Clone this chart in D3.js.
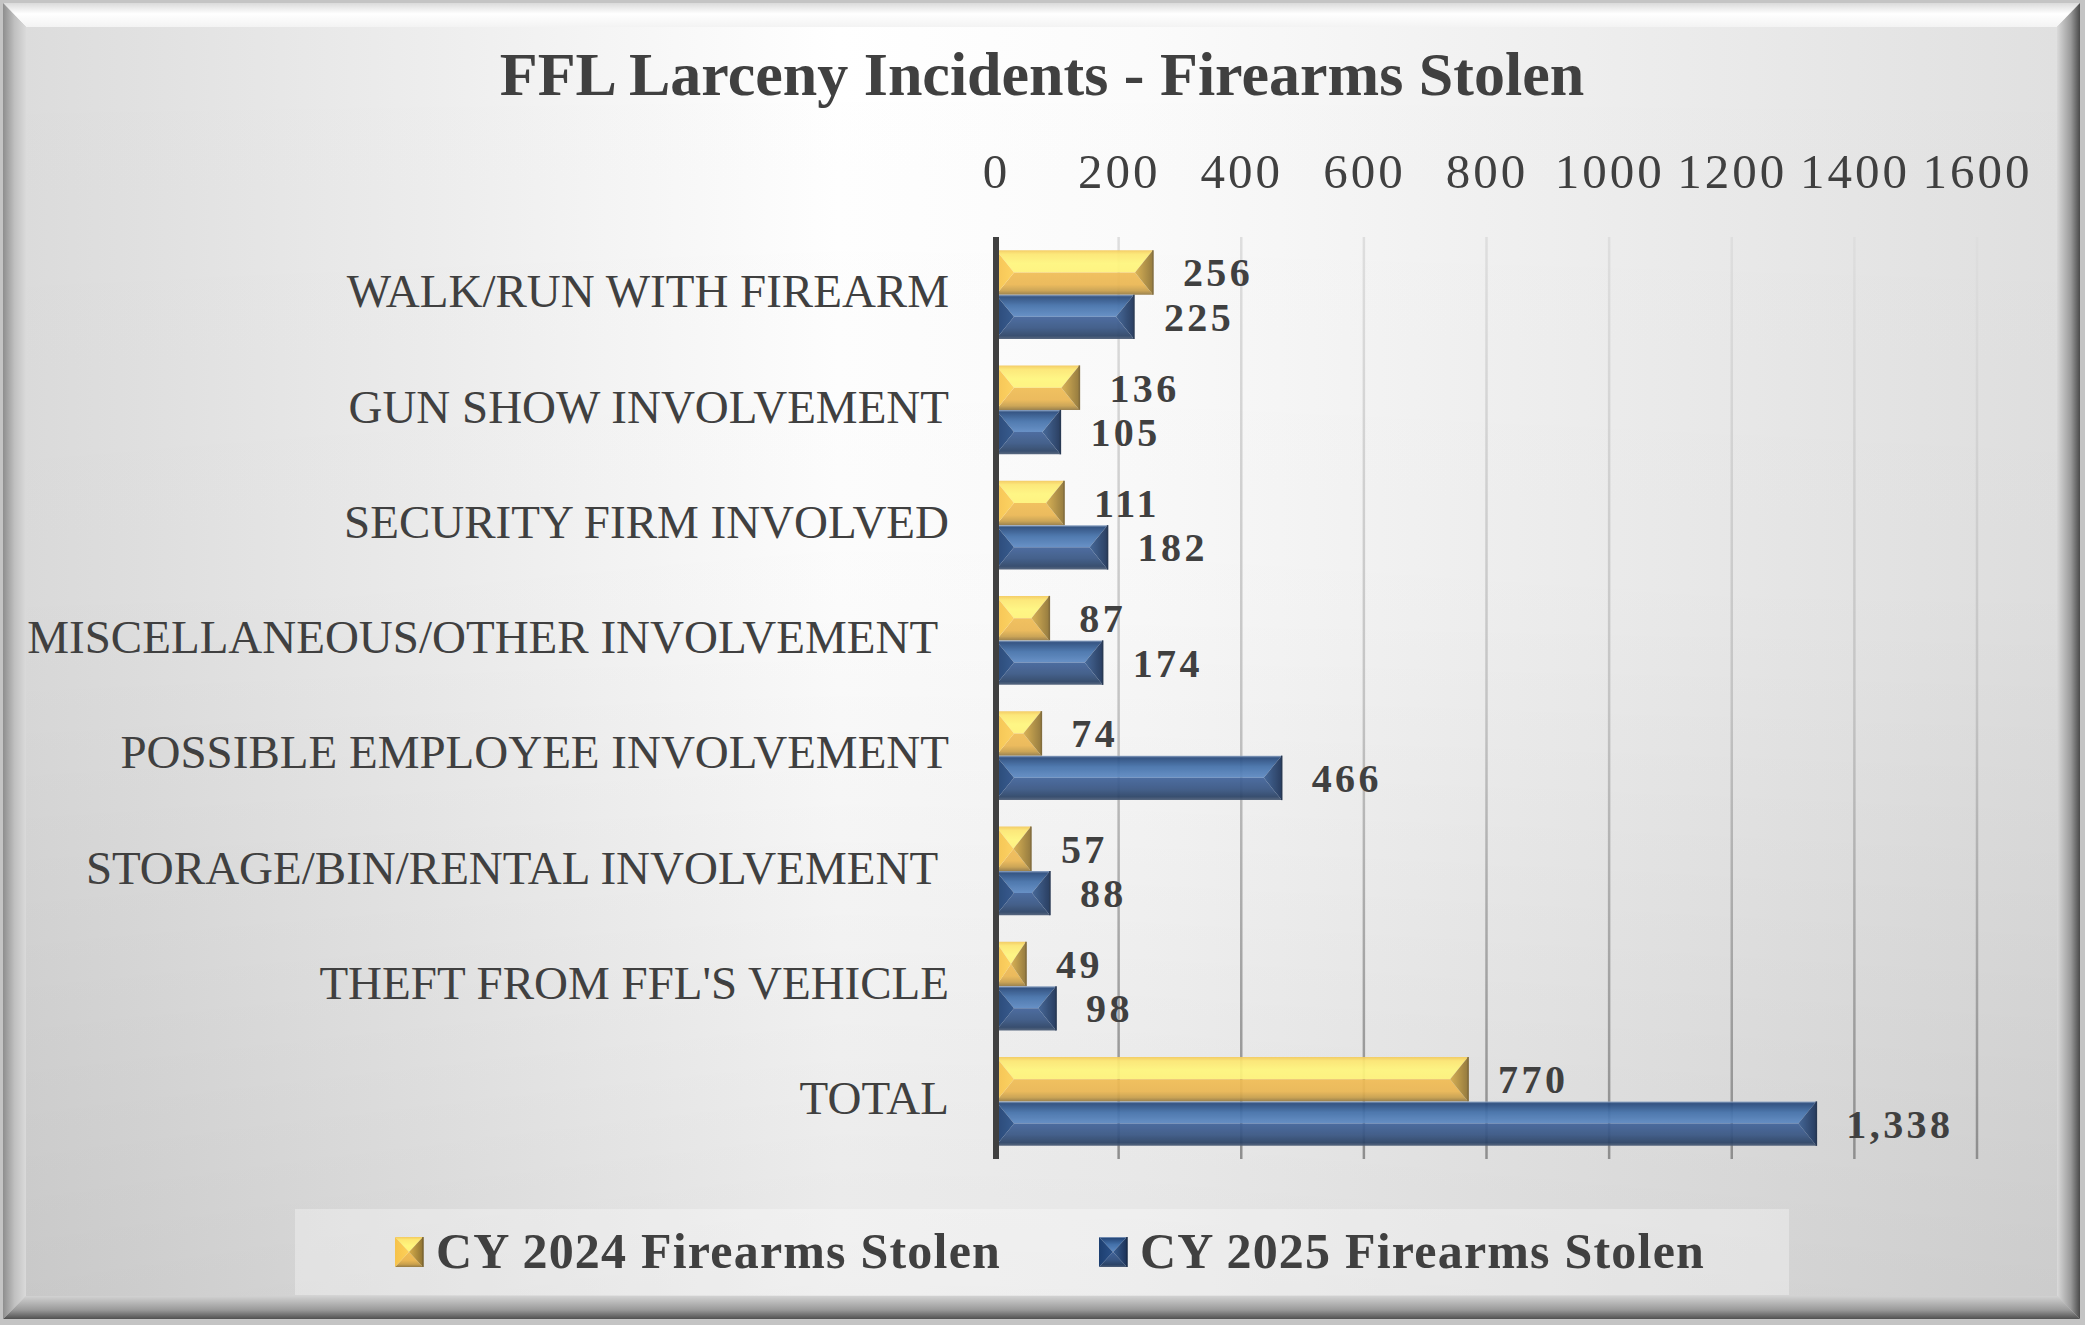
<!DOCTYPE html>
<html><head><meta charset="utf-8">
<script src="https://cdn.jsdelivr.net/npm/d3@7"></script>
<style>
html,body{margin:0;padding:0;background:#fff;}
svg{display:block;}
text{font-family:"Liberation Serif","Times New Roman",serif;fill:#404040;}
.cat text{white-space:pre;}
</style></head><body>
<svg id="chart" width="2085" height="1325"></svg>
<script>
// ---------- data ----------
const categories = ["WALK/RUN WITH FIREARM","GUN SHOW INVOLVEMENT","SECURITY FIRM INVOLVED","MISCELLANEOUS/OTHER INVOLVEMENT ","POSSIBLE EMPLOYEE INVOLVEMENT","STORAGE/BIN/RENTAL INVOLVEMENT ","THEFT FROM FFL'S VEHICLE","TOTAL"];
const seriesNames = ["CY 2024 Firearms Stolen","CY 2025 Firearms Stolen"];
const values2024 = [256,136,111,87,74,57,49,770];
const values2025 = [225,105,182,174,466,88,98,1338];
const tickValues = [0,200,400,600,800,1000,1200,1400,1600];
const chartTitle = "FFL Larceny Incidents - Firearms Stolen";

// ---------- layout ----------
const W = 2085, H = 1325;
const plot = {left: 996, right: 1977, top: 237, bottom: 1159};
const svg = d3.select("#chart");
const defs = svg.append("defs");

function lg(id, vertical, stops){
  const g = defs.append("linearGradient").attr("id", id)
    .attr("x1",0).attr("y1",0).attr("x2", vertical?0:1).attr("y2", vertical?1:0);
  stops.forEach(s => g.append("stop").attr("offset", s[0]).attr("stop-color", s[1]).attr("stop-opacity", s[2]==null?1:s[2]));
  return "url(#"+id+")";
}

// background & frame
const faceH = lg("faceH", false, [[0,"#dcdcdc"],[0.4,"#ffffff"],[0.55,"#fbfbfb"],[1,"#e0e0e0"]]);
const faceV = lg("faceV", true, [[0,"#000",0],[0.45,"#000",0.015],[1,"#000",0.09]]);
const bTop = lg("bTop", true, [[0,"#dadada"],[0.45,"#ffffff"],[1,"#f3f3f3"]]);
const bRight = lg("bRight", false, [[0,"#dadada"],[0.6,"#9a9a9a"],[1,"#4a4a4a"]]);
const bBottom = lg("bBottom", true, [[0,"#d2d2d2"],[0.6,"#9a9a9a"],[1,"#505050"]]);
const bLeft = lg("bLeft", false, [[0,"#8e8e8e"],[0.5,"#c0c0c0"],[1,"#dadada"]]);

svg.append("rect").attr("width", W).attr("height", H).attr("fill", "#c4c4c4");
const o = {x0:3, y0:3, x1:2080, y1:1319}, inn = {x0:26, y0:27, x1:2057, y1:1296};
svg.append("rect").attr("x", inn.x0).attr("y", inn.y0).attr("width", inn.x1-inn.x0).attr("height", inn.y1-inn.y0).attr("fill", faceH);
svg.append("rect").attr("x", inn.x0).attr("y", inn.y0).attr("width", inn.x1-inn.x0).attr("height", inn.y1-inn.y0).attr("fill", faceV);
const poly = pts => pts.map(p => p.join(",")).join(" ");
svg.append("polygon").attr("points", poly([[o.x0,o.y0],[o.x1,o.y0],[inn.x1,inn.y0],[inn.x0,inn.y0]])).attr("fill", bTop);
svg.append("polygon").attr("points", poly([[o.x1,o.y0],[o.x1,o.y1],[inn.x1,inn.y1],[inn.x1,inn.y0]])).attr("fill", bRight);
svg.append("polygon").attr("points", poly([[o.x0,o.y1],[o.x1,o.y1],[inn.x1,inn.y1],[inn.x0,inn.y1]])).attr("fill", bBottom);
svg.append("polygon").attr("points", poly([[o.x0,o.y0],[inn.x0,inn.y0],[inn.x0,inn.y1],[o.x0,o.y1]])).attr("fill", bLeft);

// ---------- scales ----------
const x = d3.scaleLinear().domain([0, 1600]).range([plot.left, plot.right]);
const y = d3.scaleBand().domain(categories).range([plot.top, plot.bottom]).paddingInner(0.228).paddingOuter(0.114);
const ySub = d3.scaleBand().domain(seriesNames).range([0, y.bandwidth()]);

// title
svg.append("text").attr("x", 1042).attr("y", 95).attr("text-anchor", "middle")
  .style("font-weight", "bold").style("font-size", "62px").text(chartTitle);

// gridlines
const gridStroke = lg("gridG", true, [[0,"#dedede"],[0.5,"#c4c4c4"],[1,"#8e8e8e"]]);
defs.select("#gridG").attr("gradientUnits","userSpaceOnUse").attr("x1",0).attr("x2",0).attr("y1",plot.top).attr("y2",plot.bottom);
svg.append("g").selectAll("line").data(tickValues.filter(t => t > 0)).join("line")
  .attr("x1", d => x(d)).attr("x2", d => x(d)).attr("y1", plot.top).attr("y2", plot.bottom)
  .attr("stroke", gridStroke).attr("stroke-width", 2.5);

// top value axis
const xAxis = svg.append("g").attr("transform", "translate(0,188)")
  .call(d3.axisTop(x).tickValues(tickValues).tickSize(0).tickPadding(0).tickFormat(d3.format("d")));
xAxis.select(".domain").remove();
xAxis.selectAll("text").attr("fill", "#404040").style("font-family", '"Liberation Serif",serif')
  .style("font-size", "49px").style("letter-spacing", "3px");

// category axis
const yAxis = svg.append("g").attr("class", "cat").attr("transform", "translate(" + plot.left + ",0)")
  .call(d3.axisLeft(y).tickSize(0).tickPadding(47));
yAxis.select(".domain").remove();
yAxis.selectAll("text").attr("fill", "#404040").style("font-family", '"Liberation Serif",serif')
  .style("font-size", "47px").attr("dy", "0.27em");

// ---------- bevel bars ----------
const palettes = [
  {
    top: lg("yTop", true, [[0,"#f3c95c"],[0.18,"#fde772"],[0.6,"#fff67d"],[1,"#fff37a"]]),
    bottom: lg("yBot", true, [[0,"#f1bd55"],[0.55,"#ebb753"],[0.82,"#c9a04c"],[1,"#957a43"]]),
    left: lg("yLeft", false, [[0,"#f6c24a"],[1,"#fdd058"]]),
    right: lg("yRight", false, [[0,"#d8ae4a"],[1,"#8e7232"]]),
    edge: "#7a6330"
  },
  {
    top: lg("bTopS", true, [[0,"#93a9c8"],[0.1,"#284a7c"],[0.5,"#4471aa"],[1,"#5e8ac3"]]),
    bottom: lg("bBotS", true, [[0,"#41639a"],[0.5,"#385684"],[0.85,"#2b4366"],[1,"#4f5f78"]]),
    left: lg("bLeftS", false, [[0,"#1d3f70"],[1,"#2a5088"]]),
    right: lg("bRightS", false, [[0,"#3a5f93"],[1,"#1b3156"]]),
    edge: "#1a2c48"
  }
];

function bevel(g, x0, x1, y0, y1, pal, bw){
  const w = x1 - x0, h = y1 - y0, ym = y0 + h/2;
  const b = Math.min(bw, w/2);
  g.append("polygon").attr("points", poly([[x0,y0],[x1,y0],[x1-b,ym],[x0+b,ym]])).attr("fill", pal.top);
  g.append("polygon").attr("points", poly([[x0+b,ym],[x1-b,ym],[x1,y1],[x0,y1]])).attr("fill", pal.bottom);
  g.append("polygon").attr("points", poly([[x0,y0],[x0+b,ym],[x0,y1]])).attr("fill", pal.left);
  g.append("polygon").attr("points", poly([[x1,y0],[x1,y1],[x1-b,ym]])).attr("fill", pal.right);
  g.append("line").attr("x1", x1).attr("x2", x1).attr("y1", y0).attr("y2", y1).attr("stroke", pal.edge).attr("stroke-width", 1.5);
}

const seriesValues = [values2024, values2025];
const fmt = d3.format(",");
const barsG = svg.append("g").attr("opacity", 0.93);
const labelsG = svg.append("g");
seriesValues.forEach((vals, si) => {
  vals.forEach((v, ci) => {
    const cat = categories[ci];
    const y0 = y(cat) + ySub(seriesNames[si]);
    const y1 = y0 + ySub.bandwidth();
    const g = barsG.append("g");
    bevel(g, x(0), x(v), y0, y1, palettes[si], 18);
    labelsG.append("text").attr("x", x(v) + 30).attr("y", (y0 + y1)/2).attr("dy", "0.35em")
      .style("font-weight", "bold").style("font-size", "40px").style("letter-spacing", "3.4px")
      .text(fmt(v));
  });
});

// value axis line (left)
svg.append("line").attr("x1", x(0)).attr("x2", x(0)).attr("y1", plot.top).attr("y2", plot.bottom)
  .attr("stroke", "#404040").attr("stroke-width", 6);

// ---------- legend ----------
svg.append("rect").attr("x", 295).attr("y", 1209).attr("width", 1494).attr("height", 86)
  .attr("fill", "#ffffff").attr("fill-opacity", 0.32);
const legendX = [395, 1099];
seriesNames.forEach((name, i) => {
  const g = svg.append("g");
  bevel(g, legendX[i], legendX[i] + 28, 1237, 1267, palettes[i], 14);
  svg.append("text").attr("x", legendX[i] + 41).attr("y", 1268)
    .style("font-weight", "bold").style("font-size", "50px").style("letter-spacing", "1.2px")
    .text(name);
});
</script>
</body></html>
